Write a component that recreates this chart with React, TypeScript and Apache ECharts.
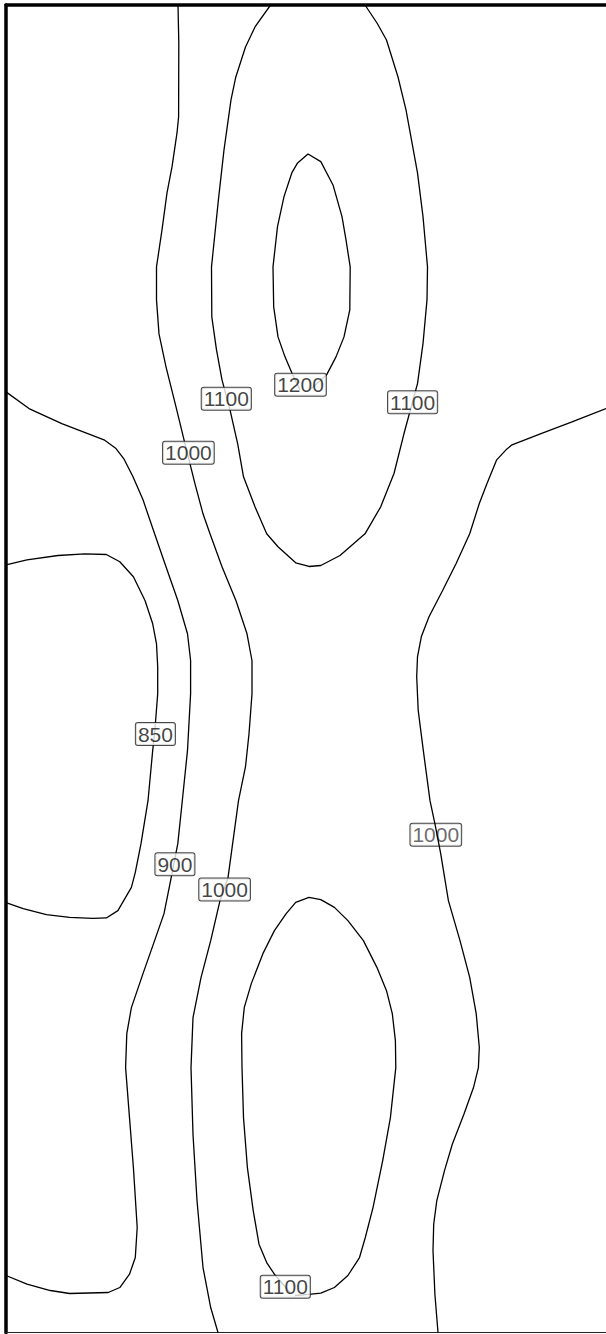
import React, { useEffect, useRef } from "react";
import * as echarts from "echarts";

// Contour lines: [x, y] in plot units (x: 6..606, y: 5..1333, y grows downward)
const c1000Left: number[][] = [
  [178, 5], [178.8, 43], [178.6, 117], [177, 133], [172, 167], [167, 193], [162, 230], [156.5, 267],
  [156.5, 300], [159, 334], [166, 367], [176, 407], [185, 444], [195, 484], [203, 514], [210, 534],
  [222, 567], [236, 601], [247, 634], [252, 661], [252, 694], [249, 734], [245.5, 767], [238.5, 801],
  [234, 834], [228, 878], [220, 901], [210.7, 941], [201, 978], [193, 1018], [191, 1068],
  [193, 1135], [197, 1201], [203, 1268], [210.7, 1308], [218, 1333],
];
const c1100Top: number[][] = [
  [270.6, 5], [255, 27], [245.5, 47], [235.8, 77], [231, 100], [224, 150], [218.4, 200], [211.5, 267],
  [211.8, 317], [216.5, 350], [222, 380], [230, 410], [237.7, 444], [243.5, 477], [255, 507], [266.7, 534],
  [278, 547], [295.7, 563], [309, 566.7], [320.8, 565.7], [340, 555.7], [365, 534],
  [380.7, 507], [394, 473.7], [404, 433.7], [417.5, 383.7], [423, 343.7], [427, 300], [427.5, 267],
  [423, 216.7], [417.5, 173], [406, 110], [398, 77], [386.5, 40], [377, 23], [365, 5],
];
const c1200: number[][] = [
  [300, 390], [291.8, 373], [285, 357], [278, 337], [273.7, 307], [273, 267], [277.5, 226.7], [284, 196.7],
  [291.8, 173], [297.6, 163], [308, 154], [320.8, 161.7], [333, 185], [342, 216.7], [346, 240], [350.2, 267],
  [349.8, 310], [344, 337], [336, 357], [326.6, 375], [310, 390],
];
const c900: number[][] = [
  [6, 392], [29, 408.7], [61.8, 423.7], [104, 440], [116, 448.7], [123.7, 458.7], [133, 477], [143, 500],
  [154.6, 534], [166, 567], [177.8, 600.7], [187.5, 634], [190.6, 660.7], [190.6, 694], [187.5, 750.7],
  [182.3, 801], [177.8, 844], [170, 884], [164, 914], [154.6, 941], [143, 974], [131.4, 1008],
  [126.8, 1034], [125.6, 1068], [129.5, 1118], [133.4, 1168], [137.2, 1228], [135.3, 1258],
  [129.5, 1274.7], [119.8, 1288], [108.2, 1293], [69.6, 1294], [50.3, 1291], [27, 1284.7], [6, 1276],
];
const c850: number[][] = [
  [6, 565], [27, 560], [58, 555.7], [85, 554], [106.3, 554.7], [119.8, 562], [133.4, 577], [145, 600.7],
  [152.7, 624], [156.5, 644], [157.7, 667], [157.7, 694], [154.6, 734], [152.7, 750.7], [148, 801],
  [141, 844], [135.3, 872.7], [131.4, 887.7], [123.7, 901], [117.9, 911], [106.3, 918.3], [92.8, 918.7],
  [69.6, 917.7], [46.4, 915], [23.2, 909], [6, 903],
];
const c1000Right: number[][] = [
  [606, 408.7], [572, 422], [541, 433.7], [512, 445], [506, 450], [496.7, 460], [487, 483.7], [479.3, 503.7],
  [469.7, 534], [456, 564], [442.6, 590.7], [429, 617], [421.3, 637], [417.5, 657], [416.7, 677],
  [418.2, 710.7], [423.3, 750.7], [430, 801], [434.9, 824], [440.7, 854], [448.4, 901], [460, 941],
  [469.7, 977.7], [476.2, 1014], [479.3, 1047.7], [478.4, 1068], [473.5, 1088], [463.9, 1114.7],
  [452.3, 1144.7], [444.5, 1171], [436.8, 1201], [433.7, 1224.7], [433, 1251], [434.9, 1294.7], [438, 1333],
];
const c1100Bottom: number[][] = [
  [290, 1293], [274.4, 1274.7], [266.7, 1263], [259, 1244.7], [253.2, 1211], [247.4, 1168], [243.5, 1118],
  [242, 1068], [241.6, 1034], [244.3, 1007.7], [251.3, 984], [262.9, 954], [274.4, 931], [286, 914.3],
  [295.7, 902.7], [309, 897.7], [320.8, 900], [334.4, 907.7], [347.9, 921], [363.4, 941], [376.9, 967.7],
  [386.5, 991], [392.3, 1014], [395.4, 1041], [395.8, 1068], [390.4, 1118], [382.7, 1161], [373, 1208],
  [365.3, 1238], [359.5, 1258], [347.9, 1276], [334.4, 1288], [320.8, 1293.7], [311.2, 1294.7], [295, 1296],
];

// Contour labels: [x, y, level]
const labelsTop: number[][] = [
  [300.5, 385, 1200],
  [226.3, 399, 1100],
  [412.6, 402.3, 1100],
  [188.4, 452.8, 1000],
  [155.4, 734.3, 850],
  [174.9, 864.5, 900],
  [224.6, 889.8, 1000],
  [285.3, 1287.3, 1100],
];
const labelsUnder: number[][] = [[435.8, 835, 1000]];

const contours = [c1000Left, c1100Top, c1200, c900, c850, c1000Right, c1100Bottom];

export default function App() {
  const ref = useRef<HTMLDivElement>(null);
  useEffect(() => {
    const chart = echarts.init(ref.current!, null, { renderer: "svg" });
    const labelStyle = (color: string) => ({
      show: true,
      position: "inside",
      formatter: (p: any) => String(p.value[2]),
      fontFamily: "'Liberation Sans', Arial, sans-serif",
      fontSize: 21,
      lineHeight: 21,
      color,
      backgroundColor: "#ffffff",
      borderColor: "#1a1a1a",
      borderWidth: 1,
      borderRadius: 2,
      padding: [1, 2, 0, 2],
    });
    chart.setOption({
      animation: false,
      grid: { left: 6, top: 5, right: 0, bottom: 1.5, containLabel: false },
      xAxis: [
        {
          type: "value", min: 6, max: 606, position: "top",
          axisLine: { show: true, onZero: false, lineStyle: { color: "#000", width: 3.5 } },
          axisTick: { show: false }, axisLabel: { show: false }, splitLine: { show: false },
        },
        {
          type: "value", min: 6, max: 606, position: "bottom",
          axisLine: { show: true, onZero: false, lineStyle: { color: "#222", width: 1 } },
          axisTick: { show: false }, axisLabel: { show: false }, splitLine: { show: false },
        },
      ],
      yAxis: {
        type: "value", min: 5, max: 1333, inverse: true, position: "left",
        axisLine: { show: true, onZero: false, lineStyle: { color: "#000", width: 3.5 } },
        axisTick: { show: false }, axisLabel: { show: false }, splitLine: { show: false },
      },
      series: [
        {
          type: "scatter", xAxisIndex: 0, z: 1, symbolSize: 1,
          itemStyle: { color: "rgba(0,0,0,0)" },
          data: labelsUnder, label: labelStyle("#444444"),
        },
        ...contours.map((c) => ({
          type: "line", xAxisIndex: 0, z: 2, data: c, showSymbol: false, symbol: "none",
          smooth: false, clip: true,
          lineStyle: { color: "#000", width: 1.3 },
        })),
        {
          type: "scatter", xAxisIndex: 0, z: 3, symbolSize: 1,
          itemStyle: { color: "rgba(0,0,0,0)" },
          data: labelsTop, label: labelStyle("#111111"),
        },
      ],
    });
    return () => chart.dispose();
  }, []);
  return (
    <div
      ref={ref}
      style={{ position: "fixed", left: 0, top: 0, width: 606, height: 1334, background: "#fff" }}
    />
  );
}
